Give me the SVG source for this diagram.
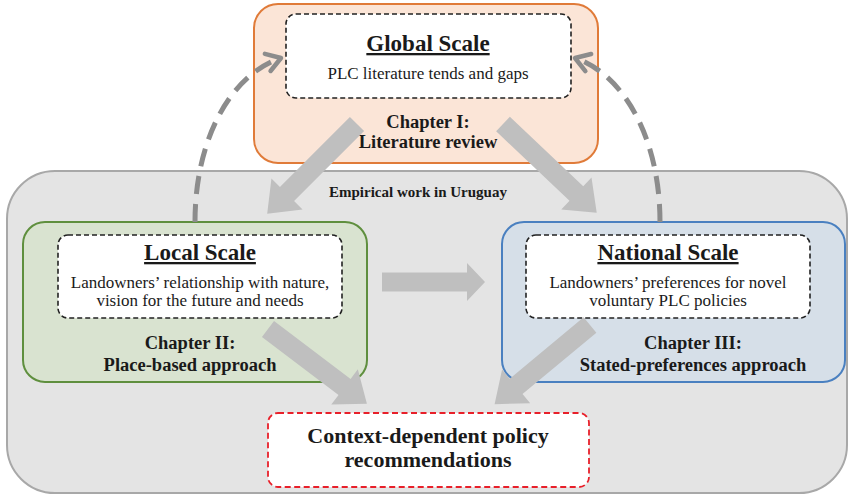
<svg xmlns="http://www.w3.org/2000/svg" width="848" height="496" viewBox="0 0 848 496">
  <defs>
    <style>
      .t { font-family: "Liberation Serif", "Times New Roman", serif; fill: #1a1a1a; text-anchor: middle; }
      .title { font-size: 23px; font-weight: bold; text-decoration: underline; }
      .desc { font-size: 17px; }
      .chap { font-size: 18.5px; font-weight: bold; }
      .inner { fill: #ffffff; stroke: #222222; stroke-width: 1.6; stroke-dasharray: 5 3; }
      .block { fill: #bfbfbf; }
      .loop { fill: none; stroke: #8c8c8c; stroke-width: 5; stroke-dasharray: 18 10; }
    </style>
    <marker id="chev" markerUnits="userSpaceOnUse" markerWidth="30" markerHeight="30" refX="0" refY="0" viewBox="-20 -15 30 30" orient="auto">
      <path d="M-14,-9 L0,0 L-14,9" fill="none" stroke="#8c8c8c" stroke-width="4.5" stroke-linecap="round" stroke-linejoin="round"/>
    </marker>
  </defs>

  <rect width="848" height="496" fill="#ffffff"/>

  <!-- Empirical work container -->
  <g id="uruguay">
    <rect x="7" y="171" width="840" height="322" rx="48" fill="#e4e4e4" stroke="#a8a8a8" stroke-width="2"/>
    <text class="t" x="418" y="197" font-size="15" font-weight="bold">Empirical work in Uruguay</text>
  </g>

  <!-- Global scale -->
  <g id="global">
    <rect x="254" y="4" width="344" height="159" rx="24" fill="#fbe5d7" stroke="#e07b39" stroke-width="2"/>
    <rect class="inner" x="286" y="14" width="285" height="84" rx="10"/>
    <text class="t title" x="428" y="51">Global Scale</text>
    <text class="t desc" x="428" y="79">PLC literature tends and gaps</text>
    <text class="t chap" x="428" y="128">Chapter I:</text>
    <text class="t chap" x="428" y="148">Literature review</text>
  </g>

  <!-- Local scale -->
  <g id="local">
    <rect x="23" y="222" width="344" height="160" rx="22" fill="#d9e3d0" stroke="#5f8f3e" stroke-width="2"/>
    <rect class="inner" x="58" y="235" width="284" height="83" rx="10"/>
    <text class="t title" x="200" y="260">Local Scale</text>
    <text class="t desc" x="200" y="288">Landowners’ relationship with nature,</text>
    <text class="t desc" x="200" y="306">vision for the future and needs</text>
    <text class="t chap" x="190" y="349">Chapter II:</text>
    <text class="t chap" x="190" y="371">Place-based approach</text>
  </g>

  <!-- National scale -->
  <g id="national">
    <rect x="502" y="222" width="343" height="160" rx="22" fill="#d6dfe8" stroke="#4a80c0" stroke-width="2"/>
    <rect class="inner" x="526" y="235" width="284" height="83" rx="10"/>
    <text class="t title" x="668" y="260">National Scale</text>
    <text class="t desc" x="668" y="288">Landowners’ preferences for novel</text>
    <text class="t desc" x="668" y="306">voluntary PLC policies</text>
    <text class="t chap" x="693" y="349">Chapter III:</text>
    <text class="t chap" x="693" y="371">Stated-preferences approach</text>
  </g>

  <!-- Policy recommendations -->
  <g id="recommendations">
    <rect x="268" y="413" width="321" height="74" rx="10" fill="#ffffff" stroke="#e8202a" stroke-width="1.8" stroke-dasharray="6 3.5"/>
    <text class="t" x="428" y="443" font-size="22" font-weight="bold">Context-dependent policy</text>
    <text class="t" x="428" y="467" font-size="22" font-weight="bold">recommendations</text>
  </g>

  <!-- Connectors -->
  <g id="connectors">
    <!-- feedback loops back to the global scale -->
    <path class="loop" d="M195,222 C195,140 230,75 281,58" marker-end="url(#chev)"/>
    <path class="loop" d="M660,222 C660,140 625,75 575,58" marker-end="url(#chev)"/>

    <!-- global to local -->
    <g transform="translate(357,124) rotate(135)">
      <path class="block" d="M0,-10 H99 V-22 L127,0 L99,22 V10 H0 Z"/>
    </g>
    <!-- global to national -->
    <g transform="translate(503,124) rotate(43.4)">
      <path class="block" d="M0,-10 H101 V-22 L129,0 L101,22 V10 H0 Z"/>
    </g>
    <!-- local to national -->
    <g transform="translate(382,282)">
      <path class="block" d="M0,-9.5 H85 V-19 L103,0 L85,19 V9.5 H0 Z"/>
    </g>
    <!-- local to recommendations -->
    <g transform="translate(268,329) rotate(37.1)">
      <path class="block" d="M0,-10 H96 V-22 L124,0 L96,22 V10 H0 Z"/>
    </g>
    <!-- national to recommendations -->
    <g transform="translate(590,325) rotate(140.3)">
      <path class="block" d="M0,-10 H96 V-22 L124,0 L96,22 V10 H0 Z"/>
    </g>
  </g>
</svg>
